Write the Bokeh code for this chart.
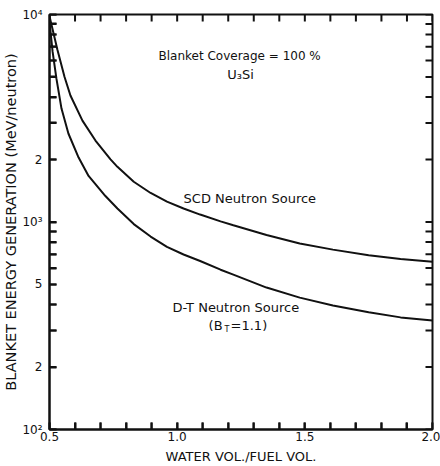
from bokeh.plotting import figure
from bokeh.models import FixedTicker
from bokeh.core.properties import value
from bokeh.embed import file_html
from bokeh.resources import INLINE

# Water-to-fuel volume ratio vs blanket energy generation (MeV/neutron)
scd_ratio = [0.50, 0.531, 0.559, 0.582, 0.629, 0.68, 0.739, 0.766, 0.83, 0.896,
             0.96, 1.025, 1.09, 1.17, 1.22, 1.35, 1.48, 1.61, 1.75, 1.875, 2.0]
scd_energy = [9800, 6760, 5000, 4070, 3080, 2470, 2004, 1845, 1563, 1380,
              1253, 1161, 1086, 1007, 964, 865, 787, 736, 692, 664, 643]

dt_ratio = [0.50, 0.512, 0.527, 0.547, 0.574, 0.614, 0.653, 0.719, 0.766, 0.83,
            0.896, 0.96, 1.025, 1.09, 1.17, 1.22, 1.35, 1.48, 1.61, 1.75,
            1.875, 2.0]
dt_energy = [9250, 6640, 4920, 3520, 2670, 2045, 1667, 1334, 1161, 977,
             851, 759, 697, 649, 589, 558, 483, 432, 396, 367, 347, 335]

x_ticks = [0.5, 0.6, 0.7, 0.8, 0.9, 1.0, 1.1, 1.2, 1.3, 1.4, 1.5, 1.6, 1.7,
           1.8, 1.9, 2.0]
x_labels = {0.5: "0.5", 1.0: "1.0", 1.5: "1.5", 2.0: "2.0"}
y_ticks = [100, 200, 300, 400, 500, 600, 700, 800, 900,
           1000, 2000, 3000, 4000, 5000, 6000, 7000, 8000, 9000, 10000]
y_labels = {100: "10²", 200: "2", 500: "5", 1000: "10³", 2000: "2", 10000: "10⁴"}

X0, X1 = 0.5, 2.0
Y0, Y1 = 100, 10000

W, H = 440, 466
BORDER_L, BORDER_R, BORDER_T, BORDER_B = 49, 8, 14, 37
TICK_PX = 7

FONT = "DejaVu Sans"
INK = "#111111"

p = figure(width=W, height=H, x_range=(X0, X1), y_range=(Y0, Y1),
           y_axis_type="log", output_backend="svg", toolbar_location=None,
           min_border_left=BORDER_L, min_border_right=BORDER_R,
           min_border_top=BORDER_T, min_border_bottom=BORDER_B)
p.xgrid.visible = False
p.ygrid.visible = False
# the frame outline closes the box on the top and right
p.outline_line_color = INK
p.outline_line_width = 2
p.outline_line_alpha = 1.0


def style_axis(ax, labels, ticks):
    ax.ticker = FixedTicker(ticks=ticks)
    ax.major_label_overrides = {t: labels.get(t, "") for t in ticks}
    ax.axis_line_color = INK
    ax.axis_line_width = 2
    ax.major_tick_line_color = INK
    ax.major_tick_line_width = 2
    ax.major_tick_in = TICK_PX
    ax.major_tick_out = 0
    ax.minor_tick_line_color = None
    ax.major_label_text_font = FONT
    ax.major_label_text_color = INK
    ax.major_label_text_font_size = "12px"
    ax.axis_label_text_font = FONT
    ax.axis_label_text_font_style = "normal"
    ax.axis_label_text_color = INK


xa = p.xaxis[0]
style_axis(xa, x_labels, x_ticks)
xa.major_label_standoff = 2
xa.axis_label = "WATER VOL./FUEL VOL."
xa.axis_label_text_font_size = "13px"
xa.axis_label_standoff = 5

ya = p.yaxis[0]
style_axis(ya, y_labels, y_ticks)
ya.major_label_standoff = 7
ya.axis_label = "BLANKET ENERGY GENERATION (MeV/neutron)"
ya.axis_label_text_font_size = "14.5px"
ya.axis_label_standoff = 0

# inward tick marks on all four sides, drawn as plain segments whose
# length is TICK_PX pixels of the plotting frame
frame_w = W - BORDER_L - BORDER_R
frame_h = H - BORDER_T - BORDER_B
dx = (X1 - X0) * TICK_PX / frame_w
fy = 10 ** (2.0 * TICK_PX / frame_h)   # two decades span the frame height

seg = dict(line_color=INK, line_width=2)
nx, ny = len(x_ticks), len(y_ticks)
p.segment(x0=x_ticks, y0=[Y0] * nx, x1=x_ticks, y1=[Y0 * fy] * nx, **seg)
p.segment(x0=x_ticks, y0=[Y1] * nx, x1=x_ticks, y1=[Y1 / fy] * nx, **seg)
p.segment(x0=[X0] * ny, y0=y_ticks, x1=[X0 + dx] * ny, y1=y_ticks, **seg)
p.segment(x0=[X1] * ny, y0=y_ticks, x1=[X1 - dx] * ny, y1=y_ticks, **seg)

p.line(scd_ratio, scd_energy, line_color=INK, line_width=2)
p.line(dt_ratio, dt_energy, line_color=INK, line_width=2)

txt = dict(text_font=value(FONT), text_font_size="13px", text_color=INK,
           text_baseline="middle")
p.text(x=[0.927], y=[6340], text=["Blanket Coverage = 100 %"], text_align="left",
       **{**txt, "text_font_size": "12px"})
p.text(x=[1.248], y=[5140], text=["U₃Si"], text_align="center", **txt)
p.text(x=[1.025], y=[1297], text=["SCD Neutron Source"], text_align="left", **txt)
p.text(x=[0.982], y=[387], text=["D-T Neutron Source"], text_align="left", **txt)
p.text(x=[1.123], y=[317], text=["(B"], text_align="left", **txt)
p.text(x=[1.123], y=[317], text=["T"], text_align="left", x_offset=16, y_offset=4,
       text_font=value(FONT), text_font_size="8px", text_color=INK,
       text_baseline="middle")
p.text(x=[1.123], y=[317], text=["=1.1)"], text_align="left", x_offset=22, **txt)

open("out.html", "w").write(file_html(p, INLINE))
